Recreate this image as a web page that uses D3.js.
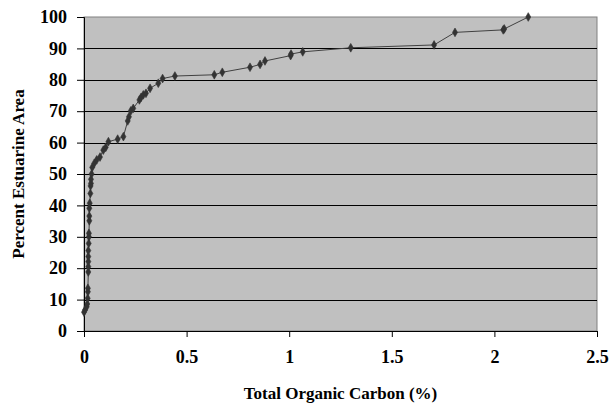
<!DOCTYPE html>
<html lang="en">
<head>
    <meta charset="UTF-8">
    <title>Percent Estuarine Area vs Total Organic Carbon</title>
    <script src="https://d3js.org/d3.v7.min.js"></script>
    <style>
        body {
            margin: 0;
            padding: 0;
            background-color: #ffffff;
        }
        svg text {
            font-family: 'Liberation Serif', 'Times New Roman', serif;
            font-weight: bold;
            fill: #000;
        }
    </style>
</head>
<body>
    <svg id="chart"></svg>

    <script>
        // Total organic carbon (%) and cumulative percent of estuarine area
        const tocValues = [
            0.000, 0.005, 0.013, 0.016, 0.018, 0.019, 0.019, 0.021, 0.021, 0.021,
            0.021, 0.021, 0.023, 0.024, 0.024, 0.026, 0.026, 0.026, 0.028, 0.031,
            0.032, 0.034, 0.034, 0.037, 0.040, 0.050, 0.062, 0.078, 0.094, 0.106,
            0.119, 0.164, 0.192, 0.213, 0.219, 0.228, 0.240, 0.270, 0.278, 0.289,
            0.302, 0.322, 0.362, 0.383, 0.443, 0.635, 0.674, 0.809, 0.858, 0.882,
            1.007, 1.009, 1.066, 1.300, 1.706, 1.808, 2.043, 2.048, 2.165
        ];
        const areaPercent = [
            6.0, 6.7, 7.7, 8.6, 10.4, 12.5, 13.6, 18.8, 20.5, 22.1,
            23.7, 25.6, 27.9, 30.0, 31.1, 35.1, 36.6, 39.1, 40.7, 43.8,
            46.2, 47.0, 48.3, 50.0, 52.1, 53.4, 54.5, 55.4, 57.6, 58.5,
            60.3, 61.1, 61.9, 66.9, 68.2, 70.1, 70.9, 73.6, 74.4, 75.2,
            75.7, 77.3, 78.9, 80.4, 81.2, 81.6, 82.4, 84.0, 84.9, 86.0,
            87.7, 88.2, 88.9, 90.2, 91.1, 95.1, 95.9, 96.2, 100
        ];
        const xTicks = [0, 0.5, 1, 1.5, 2, 2.5];
        const yTicks = [0, 10, 20, 30, 40, 50, 60, 70, 80, 90, 100];

        const data = tocValues.map((x, i) => ({ x: x, y: areaPercent[i] }));

        const width = 611;
        const height = 408;
        const margin = { top: 17, right: 14, bottom: 77, left: 84 };
        const innerW = width - margin.left - margin.right;
        const innerH = height - margin.top - margin.bottom;
        const serif = "'Liberation Serif', 'Times New Roman', serif";

        const svg = d3.select("#chart")
            .attr("width", width)
            .attr("height", height);

        const g = svg.append("g")
            .attr("transform", `translate(${margin.left},${margin.top})`);

        const x = d3.scaleLinear().domain([0, 2.5]).range([0, innerW]);
        const y = d3.scaleLinear().domain([0, 100]).range([innerH, 0]);

        // plot area
        g.append("rect")
            .attr("width", innerW)
            .attr("height", innerH)
            .attr("fill", "#c0c0c0")
            .attr("stroke", "#808080")
            .attr("stroke-width", 1);

        // horizontal gridlines
        g.selectAll(".grid")
            .data(yTicks.filter(d => d > 0 && d < 100))
            .enter().append("line")
            .attr("x1", 0)
            .attr("x2", innerW)
            .attr("y1", d => Math.round(y(d)) + 0.5)
            .attr("y2", d => Math.round(y(d)) + 0.5)
            .attr("stroke", "#000")
            .attr("stroke-width", 1);

        // axes
        const xAxis = g.append("g")
            .attr("transform", `translate(0,${innerH})`)
            .call(d3.axisBottom(x).tickValues(xTicks).tickSize(6).tickPadding(13)
                .tickFormat(d3.format("")));
        const yAxis = g.append("g")
            .call(d3.axisLeft(y).tickValues(yTicks).tickSize(7).tickPadding(10));

        [xAxis, yAxis].forEach(a => {
            a.attr("font-family", serif)
                .attr("font-size", 18)
                .attr("font-weight", "bold");
            a.select(".domain").attr("stroke", "#000");
            a.selectAll(".tick line").attr("stroke", "#000");
            a.selectAll(".tick text")
                .style("font-family", serif)
                .style("font-size", "18px")
                .style("font-weight", "bold");
        });

        // line + markers
        const line = d3.line().x(d => x(d.x)).y(d => y(d.y));

        g.append("path")
            .datum(data)
            .attr("d", line)
            .attr("fill", "none")
            .attr("stroke", "#404040")
            .attr("stroke-width", 1);

        const diamond = d3.symbol().type(d3.symbolDiamond).size(22);
        g.selectAll(".pt")
            .data(data)
            .enter().append("path")
            .attr("d", diamond)
            .attr("transform", d => `translate(${x(d.x)},${y(d.y)})`)
            .attr("fill", "#333333")
            .attr("stroke", "#333333")
            .attr("stroke-width", 0.6);

        // axis titles
        svg.append("text")
            .attr("x", margin.left + innerW / 2)
            .attr("y", 399)
            .attr("text-anchor", "middle")
            .attr("font-size", 17)
            .text("Total Organic Carbon (%)");

        svg.append("text")
            .attr("transform", `translate(24,${margin.top + innerH / 2}) rotate(-90)`)
            .attr("text-anchor", "middle")
            .attr("font-size", 17)
            .text("Percent Estuarine Area");
    </script>
</body>
</html>
